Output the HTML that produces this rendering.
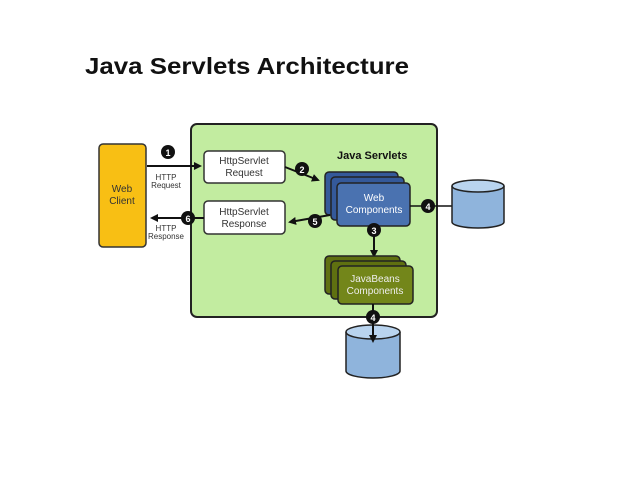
<!DOCTYPE html>
<html><head><style>
body{margin:0;background:#fff;width:638px;height:493px;overflow:hidden;font-family:"Liberation Sans",sans-serif}
</style></head><body>
<svg width="638" height="493" xmlns="http://www.w3.org/2000/svg" font-family="Liberation Sans, sans-serif">
<defs><marker id="a" markerWidth="8" markerHeight="8" refX="6" refY="4" orient="auto" markerUnits="userSpaceOnUse"><path d="M0,0 L8,4 L0,8z" fill="#111"/></marker></defs>
<text x="85" y="74" font-size="23" font-weight="bold" fill="#111" textLength="324" lengthAdjust="spacingAndGlyphs">Java Servlets Architecture</text>
<rect x="191" y="124" width="246" height="193" rx="6" fill="#c2eca0" stroke="#222" stroke-width="2"/>
<text x="337" y="159" font-size="11" font-weight="bold" fill="#111">Java Servlets</text>
<rect x="99" y="144" width="47" height="103" rx="4" fill="#f8bf14" stroke="#333" stroke-width="1.5"/>
<text x="122" y="192" font-size="10" text-anchor="middle" fill="#333">Web</text>
<text x="122" y="204" font-size="10" text-anchor="middle" fill="#333">Client</text>
<line x1="147" y1="166" x2="200" y2="166" stroke="#111" stroke-width="2" marker-end="url(#a)"/>
<circle cx="168" cy="152" r="7" fill="#111"/><text x="168" y="156" font-size="9" fill="#fff" text-anchor="middle" font-weight="bold">1</text>
<text x="166" y="180" font-size="8" text-anchor="middle" fill="#333">HTTP</text>
<text x="166" y="188" font-size="8" text-anchor="middle" fill="#333">Request</text>
<rect x="204" y="151" width="81" height="32" rx="4" fill="#fff" stroke="#333" stroke-width="1.5"/>
<text x="244" y="164" font-size="10" text-anchor="middle" fill="#333">HttpServlet</text>
<text x="244" y="176" font-size="10" text-anchor="middle" fill="#333">Request</text>
<line x1="285" y1="167" x2="318" y2="180" stroke="#111" stroke-width="2" marker-end="url(#a)"/>
<circle cx="302" cy="169" r="7" fill="#111"/><text x="302" y="173" font-size="9" fill="#fff" text-anchor="middle" font-weight="bold">2</text>
<rect x="325" y="172" width="73" height="43" rx="4" fill="#34599a" stroke="#222" stroke-width="1.5"/>
<rect x="331" y="177" width="73" height="43" rx="4" fill="#34599a" stroke="#222" stroke-width="1.5"/>
<rect x="337" y="183" width="73" height="43" rx="4" fill="#4a72b0" stroke="#222" stroke-width="1.5"/>
<text x="374" y="201" font-size="10" text-anchor="middle" fill="#fff">Web</text>
<text x="374" y="213" font-size="10" text-anchor="middle" fill="#fff">Components</text>
<line x1="410" y1="206" x2="452" y2="206" stroke="#111" stroke-width="1.5"/>
<circle cx="428" cy="206" r="7" fill="#111"/><text x="428" y="210" font-size="9" fill="#fff" text-anchor="middle" font-weight="bold">4</text>
<path d="M452,186 L452,222 A26,6 0 0 0 504,222 L504,186" fill="#8fb4dc" stroke="#222" stroke-width="1.5"/>
<ellipse cx="478" cy="186" rx="26" ry="6" fill="#b9d4ef" stroke="#222" stroke-width="1.5"/>
<line x1="330" y1="215" x2="290" y2="222" stroke="#111" stroke-width="2" marker-end="url(#a)"/>
<circle cx="315" cy="221" r="7" fill="#111"/><text x="315" y="225" font-size="9" fill="#fff" text-anchor="middle" font-weight="bold">5</text>
<rect x="204" y="201" width="81" height="33" rx="4" fill="#fff" stroke="#333" stroke-width="1.5"/>
<text x="244" y="215" font-size="10" text-anchor="middle" fill="#333">HttpServlet</text>
<text x="244" y="227" font-size="10" text-anchor="middle" fill="#333">Response</text>
<line x1="204" y1="218" x2="152" y2="218" stroke="#111" stroke-width="2" marker-end="url(#a)"/>
<circle cx="188" cy="218" r="7" fill="#111"/><text x="188" y="222" font-size="9" fill="#fff" text-anchor="middle" font-weight="bold">6</text>
<text x="166" y="231" font-size="8" text-anchor="middle" fill="#333">HTTP</text>
<text x="166" y="239" font-size="8" text-anchor="middle" fill="#333">Response</text>
<line x1="374" y1="226" x2="374" y2="256" stroke="#111" stroke-width="2" marker-end="url(#a)"/>
<circle cx="374" cy="230" r="7" fill="#111"/><text x="374" y="234" font-size="9" fill="#fff" text-anchor="middle" font-weight="bold">3</text>
<rect x="325" y="256" width="75" height="38" rx="4" fill="#5f7010" stroke="#222" stroke-width="1.5"/>
<rect x="331" y="261" width="75" height="38" rx="4" fill="#5f7010" stroke="#222" stroke-width="1.5"/>
<rect x="338" y="266" width="75" height="38" rx="4" fill="#73861a" stroke="#222" stroke-width="1.5"/>
<text x="375" y="282" font-size="10" text-anchor="middle" fill="#eee">JavaBeans</text>
<text x="375" y="294" font-size="10" text-anchor="middle" fill="#eee">Components</text>
<path d="M346,332 L346,371 A27,7 0 0 0 400,371 L400,332" fill="#8fb4dc" stroke="#222" stroke-width="1.5"/>
<ellipse cx="373" cy="332" rx="27" ry="7" fill="#b9d4ef" stroke="#222" stroke-width="1.5"/>
<line x1="373" y1="304" x2="373" y2="341" stroke="#111" stroke-width="2" marker-end="url(#a)"/>
<circle cx="373" cy="317" r="7" fill="#111"/><text x="373" y="321" font-size="9" fill="#fff" text-anchor="middle" font-weight="bold">4</text>
</svg>
</body></html>
